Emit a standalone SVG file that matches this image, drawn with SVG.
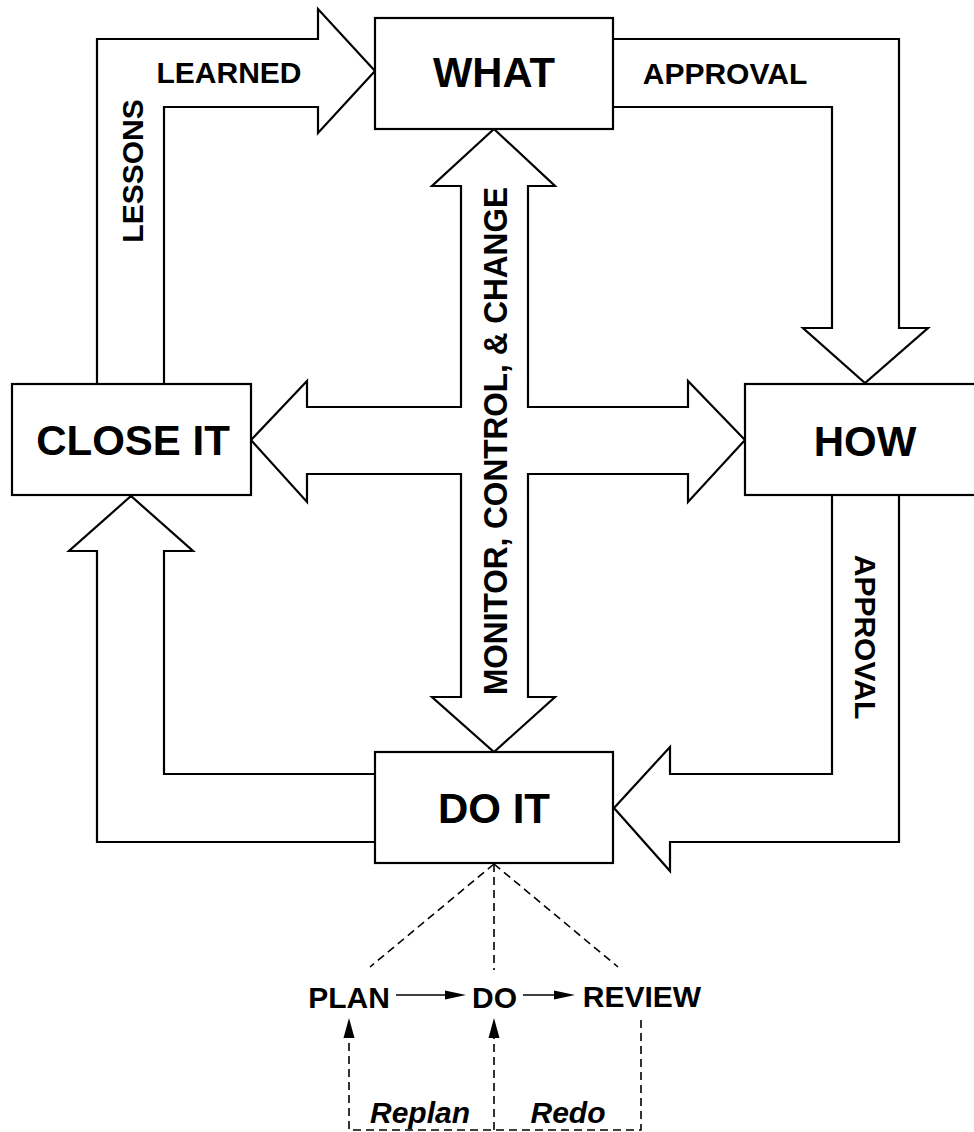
<svg xmlns="http://www.w3.org/2000/svg" width="974" height="1132" viewBox="0 0 974 1132">
  <style>
    .box { fill: #fff; stroke: #000; stroke-width: 2.2; }
    .block { fill: #fff; stroke: #000; stroke-width: 2.2; stroke-linejoin: miter; }
    .title { font-family: "Liberation Sans", Arial, sans-serif; font-weight: bold; font-size: 42px; text-anchor: middle; fill: #000; }
    .lbl { font-family: "Liberation Sans", Arial, sans-serif; font-weight: bold; font-size: 30px; text-anchor: middle; fill: #000; }
    .ital { font-style: italic; }
    .thin { fill: none; stroke: #000; stroke-width: 1.6; }
    .dash { fill: none; stroke: #000; stroke-width: 1.6; stroke-dasharray: 8 5; }
    .head { fill: #000; stroke: none; }
  </style>
  <rect width="974" height="1132" fill="#fff"/>

  <!-- block arrows between the phases -->
  <g id="connectors">
    <!-- lessons learned: CLOSE IT -> WHAT -->
    <path class="block" d="M97,384 V39 H318 V9 L375,71 L318,133 V107 H164 V384"/>
    <!-- approval: WHAT -> HOW -->
    <path class="block" d="M613,39 H899 V328 H928 L865,383 L803,328 H832 V107 H613"/>
    <!-- approval: HOW -> DO IT -->
    <path class="block" d="M832,496 V774 H670 V747 L614,808 L670,871 V842 H899 V496"/>
    <!-- DO IT -> CLOSE IT -->
    <path class="block" d="M375,774 H164 V551 H193 L131,496 L69,551 H97 V842 H375"/>
    <!-- monitor, control and change: four-way arrow -->
    <path class="block" d="M494,129 L555,186 H528 V407 H688 V381 L745,440 L688,502 V474 H528 V697 H555 L494,752 L432,697 H461 V474 H307 V502 L251,440 L307,381 V407 H461 V186 H432 Z"/>

    <!-- DO IT breakdown -->
    <line class="dash" x1="494" y1="864" x2="370" y2="967"/>
    <line class="dash" x1="494" y1="864" x2="494" y2="970"/>
    <line class="dash" x1="494" y1="864" x2="618" y2="967"/>

    <!-- plan -> do -> review -->
    <line class="thin" x1="396" y1="995" x2="448" y2="995"/>
    <polygon class="head" points="466,995 445,990.5 445,999.5"/>
    <line class="thin" x1="523" y1="995" x2="557" y2="995"/>
    <polygon class="head" points="575,995 554,990.5 554,999.5"/>

    <!-- replan / redo loops -->
    <polyline class="dash" points="641,1020 641,1130 349,1130 349,1036"/>
    <polygon class="head" points="349,1018 343.5,1038 354.5,1038"/>
    <line class="dash" x1="494" y1="1130" x2="494" y2="1036"/>
    <polygon class="head" points="494,1018 488.5,1038 499.5,1038"/>
  </g>

  <g id="what">
    <rect class="box" x="375" y="18" width="238" height="111"/>
    <text class="title" x="494" y="87" textLength="122" lengthAdjust="spacingAndGlyphs">WHAT</text>
  </g>
  <g id="close-it">
    <rect class="box" x="12" y="384" width="239" height="111"/>
    <text class="title" x="133" y="455">CLOSE IT</text>
  </g>
  <g id="how">
    <rect class="box" x="745" y="384" width="238" height="111"/>
    <text class="title" x="865" y="456">HOW</text>
  </g>
  <g id="do-it">
    <rect class="box" x="375" y="752" width="238" height="111"/>
    <text class="title" x="494" y="823">DO IT</text>
  </g>

  <g id="labels">
    <text class="lbl" x="229" y="83">LEARNED</text>
    <text class="lbl" transform="translate(142.5,171) rotate(-90)">LESSONS</text>
    <text class="lbl" x="725" y="84">APPROVAL</text>
    <text class="lbl" transform="translate(855,637) rotate(90)">APPROVAL</text>
    <text class="lbl" style="font-size:33px" transform="translate(507,441) rotate(-90)" textLength="508" lengthAdjust="spacingAndGlyphs">MONITOR, CONTROL, &amp; CHANGE</text>
  </g>

  <g id="plan">
    <text class="lbl" x="349" y="1008">PLAN</text>
  </g>
  <g id="do">
    <text class="lbl" x="494.5" y="1008">DO</text>
  </g>
  <g id="review">
    <text class="lbl" x="642" y="1007">REVIEW</text>
  </g>
  <g id="loop-labels">
    <text class="lbl ital" x="420" y="1123">Replan</text>
    <text class="lbl ital" x="568" y="1123">Redo</text>
  </g>
</svg>
